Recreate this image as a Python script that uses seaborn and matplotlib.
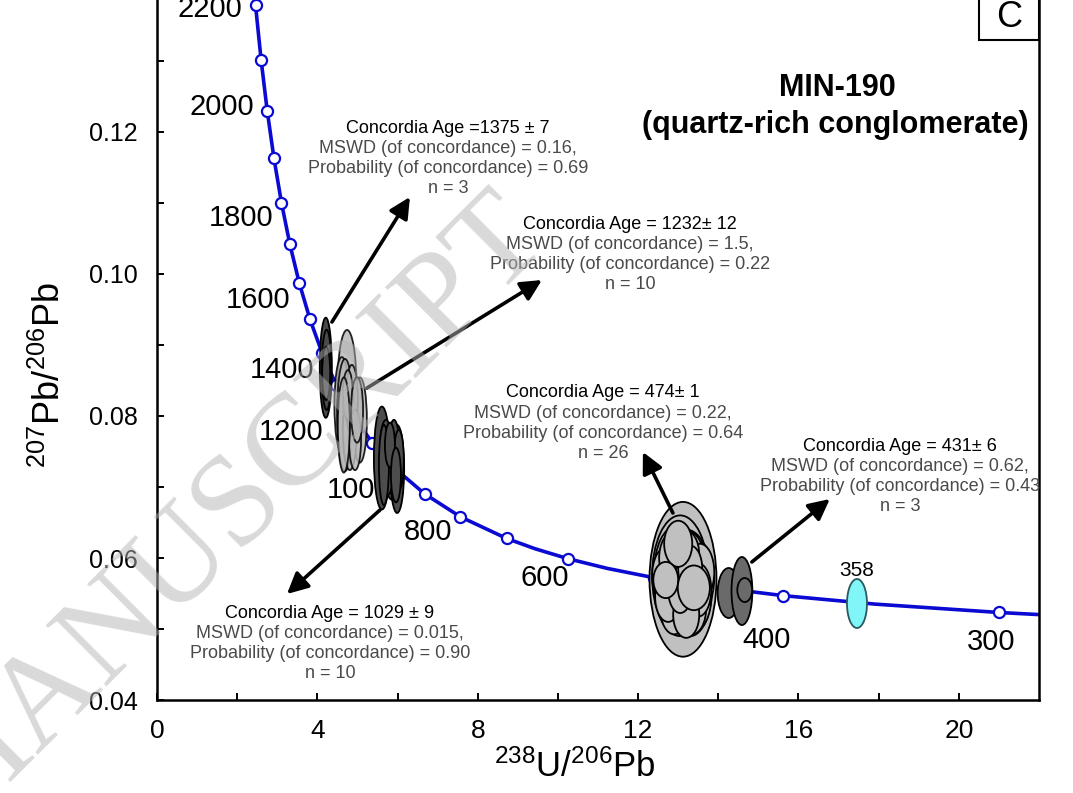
import matplotlib
matplotlib.use("Agg")
import matplotlib.pyplot as plt
from matplotlib.patches import Ellipse, Rectangle
import numpy as np
import pandas as pd
import seaborn as sns

# ---------------- data ----------------
# Concordia (Tera-Wasserburg) points
curve_age = [2250, 2200, 2100, 2000, 1900, 1800, 1700, 1600, 1500, 1400, 1300,
             1200, 1100, 1000, 900, 800, 700, 650, 600, 550, 500, 450, 400,
             350, 300, 287]
curve_x = [2.3941, 2.4586, 2.5968, 2.7490, 2.9174, 3.1046, 3.3139, 3.5497,
           3.8170, 4.1227, 4.4755, 4.8875, 5.3746, 5.9593, 6.6743, 7.5683,
           8.7182, 9.4260, 10.2518, 11.2279, 12.3993, 13.8312, 15.6211,
           17.9227, 20.9920, 22.0]
curve_y = [0.14186, 0.13782, 0.13015, 0.12299, 0.11629, 0.11004, 0.10419,
           0.09871, 0.09360, 0.08881, 0.08432, 0.08012, 0.07619, 0.07250,
           0.06904, 0.06580, 0.06276, 0.06131, 0.05990, 0.05854, 0.05722,
           0.05594, 0.05470, 0.05350, 0.05233, 0.05203]
marker_ages = [2200, 2100, 2000, 1900, 1800, 1700, 1600, 1500, 1400, 1300,
               1200, 1100, 1000, 900, 800, 700, 600, 500, 400, 300]
labelled_ages = [2200, 2000, 1800, 1600, 1400, 1200, 1000, 800, 600, 400, 300]

# error ellipses (centre x, centre y, full width, full height)
g1375_x = [4.21, 4.23, 4.22]
g1375_y = [0.0868, 0.0865, 0.0860]
g1375_w = [0.30, 0.24, 0.20]
g1375_h = [0.0141, 0.0113, 0.0075]

g1232_x = [4.74, 4.61, 5.06, 4.69, 4.81, 4.86, 4.94, 4.76, 4.66, 4.99]
g1232_y = [0.08437, 0.08155, 0.07944, 0.08014, 0.07803, 0.08225, 0.07662,
           0.08296, 0.07873, 0.08085]
g1232_w = [0.47, 0.37, 0.35, 0.40, 0.35, 0.30, 0.30, 0.25, 0.30, 0.30]
g1232_h = [0.0155, 0.0135, 0.0120, 0.0158, 0.0113, 0.0099, 0.0085, 0.0070,
           0.0134, 0.0092]

g1029_x = [5.61, 5.86, 5.99, 5.71, 5.91, 5.76, 6.03, 5.66, 5.81, 5.96]
g1029_y = [0.07408, 0.07352, 0.07254, 0.07521, 0.07451, 0.07239, 0.07380,
           0.07310, 0.07592, 0.07169]
g1029_w = [0.40, 0.42, 0.35, 0.30, 0.30, 0.25, 0.25, 0.25, 0.25, 0.25]
g1029_h = [0.0145, 0.0106, 0.0124, 0.0085, 0.0099, 0.0070, 0.0085, 0.0113,
           0.0063, 0.0077]

g474_x = [13.12, 13.05, 13.20, 12.95, 13.30, 12.85, 13.45, 13.00, 13.25, 12.80,
          13.40, 13.10, 12.70, 13.55, 12.90, 13.35, 13.15, 12.85, 13.50, 12.75,
          13.20, 13.05, 13.30, 13.00, 12.69, 13.39]
g474_y = [0.0570, 0.0575, 0.0565, 0.0580, 0.0560, 0.0568, 0.0572, 0.0590,
          0.0595, 0.0555, 0.0545, 0.0540, 0.0575, 0.0580, 0.0530, 0.0530,
          0.0605, 0.0600, 0.0555, 0.0545, 0.0520, 0.0555, 0.0585, 0.0620,
          0.0569, 0.0558]
g474_w = [1.67, 1.40, 1.30, 1.10, 1.10, 0.90, 0.90, 0.85, 0.80, 0.75, 0.85,
          0.80, 0.70, 0.70, 0.70, 0.70, 0.75, 0.65, 0.65, 0.65, 0.65, 0.60,
          0.60, 0.70, 0.62, 0.80]
g474_h = [0.0218, 0.0170, 0.0150, 0.0130, 0.0140, 0.0110, 0.0105, 0.0090,
          0.0085, 0.0085, 0.0095, 0.0090, 0.0080, 0.0080, 0.0075, 0.0075,
          0.0070, 0.0070, 0.0075, 0.0070, 0.0065, 0.0065, 0.0065, 0.0065,
          0.0051, 0.0063]

g431_x = [14.26, 14.59, 14.66]
g431_y = [0.05507, 0.05535, 0.05549]
g431_w = [0.55, 0.52, 0.37]
g431_h = [0.00704, 0.00958, 0.00338]

g358_x = [17.46]
g358_y = [0.05359]
g358_w = [0.50]
g358_h = [0.0069]

# annotation blocks
blocks = [
    ["Concordia Age =1375 \u00b1 7", "MSWD (of concordance) = 0.16,",
     "Probability (of concordance) = 0.69", "n = 3"],
    ["Concordia Age = 1232\u00b1 12", "MSWD (of concordance) = 1.5,",
     "Probability (of concordance) = 0.22", "n = 10"],
    ["Concordia Age = 474\u00b1 1", "MSWD (of concordance) = 0.22,",
     "Probability (of concordance) = 0.64", "n = 26"],
    ["Concordia Age = 431\u00b1 6", "MSWD (of concordance) = 0.62,",
     "Probability (of concordance) = 0.43", "n = 3"],
    ["Concordia Age = 1029 \u00b1 9", "MSWD (of concordance) = 0.015,",
     "Probability (of concordance) = 0.90", "n = 10"],
]

# ---------------- style ----------------
sns.set_theme(style="ticks")
plt.rcParams["font.family"] = ["Liberation Sans", "DejaVu Sans"]
plt.rcParams["mathtext.fontset"] = "custom"
plt.rcParams["mathtext.rm"] = "Liberation Sans"
plt.rcParams["mathtext.it"] = "Liberation Sans:italic"
plt.rcParams["mathtext.bf"] = "Liberation Sans:bold"
plt.rcParams["mathtext.default"] = "regular"
for k in ["text.color", "axes.labelcolor", "xtick.color", "ytick.color",
          "axes.edgecolor"]:
    plt.rcParams[k] = "black"

fig = plt.figure(figsize=(10.73, 7.93), dpi=100)
ax = fig.add_axes([157 / 1073, 93 / 793, 882 / 1073, 700 / 793])

BLUE = "#0a0ad2"
curve = pd.DataFrame({"age": curve_age, "x": curve_x, "y": curve_y})
sns.lineplot(data=curve, x="x", y="y", sort=False, estimator=None, ax=ax,
             color=BLUE, lw=2.6, zorder=2)
mk = curve[curve["age"].isin(marker_ages)]
ax.plot(mk["x"], mk["y"], ls="none", marker="o", ms=8, mfc="white",
        mec=BLUE, mew=1.6, zorder=3)

# age labels along the curve (offsets in pixels)
label_offsets = {2200: (-46, -4), 2000: (-45, 4), 1800: (-40, -15),
                 1600: (-41, -17), 1400: (-40, -17), 1200: (-62, -17),
                 1000: (-37, -21), 800: (-32, -15), 600: (-23, -19),
                 400: (-17, -44), 300: (-7, -30)}
for a in labelled_ages:
    row = curve[curve["age"] == a].iloc[0]
    ax.annotate(str(a), xy=(row["x"], row["y"]), xytext=label_offsets[a],
                textcoords="offset pixels", ha="center", va="center",
                fontsize=21, color="black", zorder=4, annotation_clip=False)


def draw_group(xs, ys, ws, hs, fc, alpha=1.0, z=5):
    for x, y, w, h in zip(xs, ys, ws, hs):
        ax.add_patch(Ellipse((x, y), w, h, facecolor=fc, edgecolor="black",
                             lw=1.3, alpha=alpha, zorder=z))


draw_group(g1232_x, g1232_y, g1232_w, g1232_h, "#b9b9b9", alpha=0.85)
draw_group(g1375_x, g1375_y, g1375_w, g1375_h, "#4a4a4a")
draw_group(g1029_x, g1029_y, g1029_w, g1029_h, "#4d4d4d")
draw_group(g474_x, g474_y, g474_w, g474_h, "#c0c0c0")
draw_group(g431_x, g431_y, g431_w, g431_h, "#6a6a6a")
for x, y, w, h in zip(g358_x, g358_y, g358_w, g358_h):
    ax.add_patch(Ellipse((x, y), w, h, facecolor="#80f6f8",
                         edgecolor="#2a5a60", lw=1.3, zorder=5))
    ax.annotate("358", xy=(x, y), xytext=(0, 33), textcoords="offset pixels",
                ha="center", va="center", fontsize=15, zorder=6)

# annotation text blocks (anchor of first line)
block_anchor = [(7.257, 0.12056), (11.796, 0.10704), (11.122, 0.08324),
                (18.529, 0.07577), (4.314, 0.05225)]
for lines, (bx, by) in zip(blocks, block_anchor):
    for i, ln in enumerate(lines):
        t = ax.annotate(ln, xy=(bx, by), xytext=(0, -20.3 * i),
                        textcoords="offset pixels", ha="center", va="center",
                        fontsize=13,
                        color="black" if i == 0 else "#4a4a4a", zorder=6)
        t.set_clip_on(True)

# arrows (tail -> head)
arrows = [((4.364, 0.09324), (6.309, 0.11085)),
          ((5.237, 0.08394), (9.601, 0.09915)),
          ((12.868, 0.06634), (12.120, 0.07493)),
          ((14.838, 0.05944), (16.783, 0.06831)),
          ((5.561, 0.06676), (3.242, 0.05493))]
for tail, head in arrows:
    ax.annotate("", xy=head, xytext=tail,
                arrowprops=dict(arrowstyle="-|>,head_length=0.9,head_width=0.45",
                                lw=2.6, color="black", shrinkA=0, shrinkB=0,
                                mutation_scale=14),
                zorder=6)

# axes
ax.set_xlim(0, 22)
ax.set_ylim(0.04, 0.04 + 700 / 7100)
ax.set_xticks([0, 4, 8, 12, 16, 20])
ax.set_xticks([2, 6, 10, 14, 18], minor=True)
ax.set_yticks([0.04, 0.06, 0.08, 0.10, 0.12])
ax.set_yticks([0.05, 0.07, 0.09, 0.11, 0.13], minor=True)
ax.set_yticklabels(["0.04", "0.06", "0.08", "0.10", "0.12"])
ax.tick_params(axis="both", which="both", direction="in", length=5, width=1.4,
               color="black", labelcolor="black")
ax.tick_params(axis="x", which="major", labelsize=19, pad=14)
ax.tick_params(axis="y", which="major", labelsize=18, pad=14)
for s in ["left", "bottom", "right"]:
    ax.spines[s].set_linewidth(1.8)
    ax.spines[s].set_color("black")
ax.spines["top"].set_visible(False)
ax.grid(False)

ax.set_xlabel(r"$^{238}$U/$^{206}$Pb", fontsize=25, color="black")
ax.xaxis.set_label_coords(0.474, -0.07)
ax.set_ylabel(r"$^{207}$Pb/$^{206}$Pb", fontsize=26, color="black")
ax.yaxis.set_label_coords(-0.101, 0.464)

# sample title
ax.text(0.771, 0.874, "MIN-190", transform=ax.transAxes, ha="center",
        va="center", fontsize=22, fontweight="bold", color="black")
ax.text(0.769, 0.821, "(quartz-rich conglomerate)", transform=ax.transAxes,
        ha="center", va="center", fontsize=22, fontweight="bold",
        color="black")

# panel letter box
ax.add_patch(Rectangle((0.932, 0.943), 0.068, 0.1, transform=ax.transAxes,
                       facecolor="white", edgecolor="black", lw=1.5,
                       clip_on=False, zorder=7))
ax.text(0.966, 0.975, "C", transform=ax.transAxes, ha="center", va="center",
        fontsize=26, zorder=8, color="black")

# watermark
fig.text(0.2144, 0.3506, "MANUSCRIPT", rotation=44.9, fontsize=94,
         family="Liberation Serif", color="#b4b4b4", alpha=0.5,
         ha="center", va="center", rotation_mode="anchor", zorder=20)

fig.savefig("out.png", dpi=100)
